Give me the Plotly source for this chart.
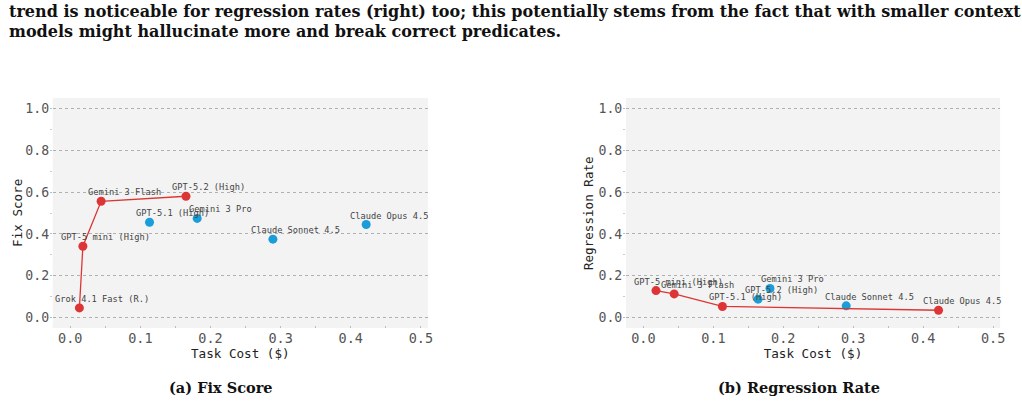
import plotly.graph_objects as go

# ---- data ----
fix_models = ["Grok 4.1 Fast (R.)", "GPT-5 mini (High)", "Gemini 3 Flash", "GPT-5.2 (High)",
              "GPT-5.1 (High)", "Gemini 3 Pro", "Claude Sonnet 4.5", "Claude Opus 4.5"]
fix_cost = [0.013, 0.018, 0.044, 0.165, 0.113, 0.181, 0.289, 0.422]
fix_score = [0.046, 0.341, 0.556, 0.580, 0.456, 0.474, 0.375, 0.445]
fix_frontier = ["Grok 4.1 Fast (R.)", "GPT-5 mini (High)", "Gemini 3 Flash", "GPT-5.2 (High)"]

reg_models = ["GPT-5 mini (High)", "Gemini 3 Flash", "GPT-5.1 (High)", "GPT-5.2 (High)",
              "Gemini 3 Pro", "Claude Sonnet 4.5", "Claude Opus 4.5"]
reg_cost = [0.018, 0.044, 0.113, 0.164, 0.181, 0.290, 0.422]
reg_rate = [0.129, 0.113, 0.053, 0.088, 0.139, 0.056, 0.035]
reg_frontier = ["GPT-5 mini (High)", "Gemini 3 Flash", "GPT-5.1 (High)", "Claude Opus 4.5"]

yticks = [0.0, 0.2, 0.4, 0.6, 0.8, 1.0]
xticks = [0.0, 0.1, 0.2, 0.3, 0.4, 0.5]

body_lines = ["trend is noticeable for regression rates (right) too; this potentially stems from the fact that with smaller context",
              "models might hallucinate more and break correct predicates."]
captions = ["(a) Fix Score", "(b) Regression Rate"]

RED = "#dd3535"
BLUE = "#1a9dd9"
MONO = "DejaVu Sans Mono"
SERIF = "DejaVu Serif"
W, H = 1022, 403

def px_x(p):
    return p / W

def px_y(p):
    return 1 - p / H

fig = go.Figure()

panels = [
    dict(models=fix_models, cost=fix_cost, val=fix_score, front=fix_frontier,
         xa="x", ya="y", dom=(53, 430), ytitle="Fix Score", ytitle_x=17),
    dict(models=reg_models, cost=reg_cost, val=reg_rate, front=reg_frontier,
         xa="x2", ya="y2", dom=(629, 1005), ytitle="Regression Rate", ytitle_x=591),
]

for i, p in enumerate(panels):
    fset = set(p["front"])
    fx = [c for m, c in zip(p["models"], p["cost"]) if m in fset]
    fy = [v for m, v in zip(p["models"], p["val"]) if m in fset]
    ox = [c for m, c in zip(p["models"], p["cost"]) if m not in fset]
    oy = [v for m, v in zip(p["models"], p["val"]) if m not in fset]
    order = sorted(range(len(fx)), key=lambda k: fx[k])
    fx = [fx[k] for k in order]
    fy = [fy[k] for k in order]
    fig.add_trace(go.Scatter(x=ox, y=oy, mode="markers", xaxis=p["xa"], yaxis=p["ya"],
                             marker=dict(color=BLUE, size=9, line=dict(width=0)), showlegend=False))
    fig.add_trace(go.Scatter(x=fx, y=fy, mode="lines+markers", xaxis=p["xa"], yaxis=p["ya"],
                             line=dict(color=RED, width=1.3),
                             marker=dict(color=RED, size=9, line=dict(width=0)), showlegend=False))
    for m, c, v in zip(p["models"], p["cost"], p["val"]):
        fig.add_annotation(x=c, y=v, xref=p["xa"], yref=p["ya"], text=m, showarrow=False,
                           xanchor="center", yanchor="middle", xshift=23, yshift=9,
                           font=dict(family=MONO, size=8.7, color="#444444"))
    axis_common = dict(showline=False, zeroline=False)
    fig.layout["xaxis" + ("" if i == 0 else "2")] = dict(
        domain=[px_x(p["dom"][0]), px_x(p["dom"][1])], range=[-0.025, 0.51],
        tickvals=xticks, ticktext=[f"{t:.1f}" for t in xticks],
        showgrid=False, ticks="inside", ticklen=2, tickcolor="#bbbbbb",
        minor=dict(tickvals=[0.05, 0.15, 0.25, 0.35, 0.45], ticks="inside", ticklen=2, tickcolor="#bbbbbb"),
        tickfont=dict(family=MONO, size=13.5, color="#555555"),
        title=dict(text="Task Cost ($)", font=dict(family=MONO, size=12.6, color="#222222"), standoff=4),
        anchor=p["ya"], **axis_common)
    fig.layout["yaxis" + ("" if i == 0 else "2")] = dict(
        domain=[px_y(328), px_y(98)], range=[-0.05, 1.05],
        tickvals=yticks, ticktext=[f"{t:.1f}" for t in yticks],
        showgrid=True, gridcolor="#b0b0b0", griddash="dot", gridwidth=1,
        ticks="outside", ticklen=2, tickcolor="#bbbbbb", ticklabelstandoff=-2,
        minor=dict(tickvals=[0.1, 0.3, 0.5, 0.7, 0.9], ticks="outside", ticklen=2, tickcolor="#cccccc"),
        tickfont=dict(family=MONO, size=13.2, color="#555555"),
        anchor=p["xa"], **axis_common)
    fig.add_annotation(text=p["ytitle"], xref="paper", yref="paper", x=px_x(p["ytitle_x"]),
                       y=px_y(213), xanchor="center", yanchor="middle", textangle=-90,
                       showarrow=False, font=dict(family=MONO, size=12.6, color="#222222"))
    fig.add_shape(type="rect", xref="x domain" if i == 0 else "x2 domain",
                  yref="y domain" if i == 0 else "y2 domain", x0=0, x1=1, y0=0, y1=1,
                  fillcolor="#f3f3f3", line=dict(width=0), layer="below")

for line_text, mid_y in zip(body_lines, [12, 32]):
    fig.add_annotation(text="<b>" + line_text + "</b>", xref="paper", yref="paper",
                       x=px_x(7), y=px_y(mid_y), xanchor="left", yanchor="middle",
                       align="left", showarrow=False,
                       font=dict(family=SERIF, size=16, color="#111111"))
fig.add_annotation(text="<b>" + captions[0] + "</b>", xref="paper", yref="paper", x=px_x(222), y=px_y(387),
                   xanchor="center", yanchor="middle", showarrow=False,
                   font=dict(family=SERIF, size=14.5, color="#111111"))
fig.add_annotation(text="<b>" + captions[1] + "</b>", xref="paper", yref="paper", x=px_x(803), y=px_y(387),
                   xanchor="center", yanchor="middle", showarrow=False,
                   font=dict(family=SERIF, size=14.5, color="#111111"))

fig.update_layout(width=W, height=H, margin=dict(l=0, r=0, t=0, b=0),
                  paper_bgcolor="white", plot_bgcolor="rgba(0,0,0,0)")

fig.write_html("out.html")
